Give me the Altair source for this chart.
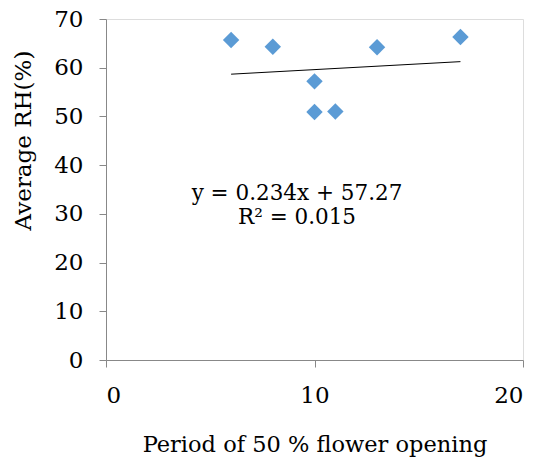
import altair as alt
import pandas as pd

period = [6, 8, 10, 10, 11, 13, 17]
avg_rh = [65.7, 64.3, 57.2, 50.9, 51.0, 64.2, 66.3]
slope = 0.234
intercept = 57.27
eq_text = ["y = 0.234x + 57.27", "R² = 0.015"]

df = pd.DataFrame({"x": period, "y": avg_rh})
xs = [min(period), max(period)]
trend = pd.DataFrame({"x": xs, "y": [slope * v + intercept for v in xs]})

serif = "DejaVu Serif"
xscale = alt.Scale(domain=[0, 20], nice=False)
yscale = alt.Scale(domain=[0, 70], nice=False)

points = alt.Chart(df).mark_point(shape="diamond", filled=True, size=270,
                                  color="#5B9BD5", opacity=1).encode(
    x=alt.X("x:Q", scale=xscale,
            axis=alt.Axis(values=[0, 10, 20], title="Period of 50 % flower opening",
                          titleFont=serif, titleFontSize=22.5, titleFontWeight="normal",
                          titleColor="#000", labelFont=serif, labelFontSize=23,
                          labelColor="#000", labelPadding=17, titlePadding=26,
                          domainColor="#888", tickColor="#888", grid=False,
                          tickSize=7)),
    y=alt.Y("y:Q", scale=yscale,
            axis=alt.Axis(values=list(range(0, 71, 10)), title="Average RH(%)",
                          titleFont=serif, titleFontSize=23, titleFontWeight="normal",
                          titleColor="#000", labelFont=serif, labelFontSize=23,
                          labelColor="#000", labelPadding=16, titlePadding=18,
                          titleY=121,
                          domainColor="#888", tickColor="#888", grid=False,
                          tickSize=7)),
)

line = alt.Chart(trend).mark_line(color="#000", strokeWidth=1).encode(
    x=alt.X("x:Q", scale=xscale), y=alt.Y("y:Q", scale=yscale))

t1 = alt.Chart(pd.DataFrame({"t": [eq_text[0]]})).mark_text(
    font=serif, fontSize=21.5, color="#000", align="center", baseline="middle"
).encode(text="t:N", x=alt.value(191), y=alt.value(175))
t2 = alt.Chart(pd.DataFrame({"t": [eq_text[1]]})).mark_text(
    font=serif, fontSize=21.5, color="#000", align="center", baseline="middle"
).encode(text="t:N", x=alt.value(191), y=alt.value(199))

chart = (line + points + t1 + t2).properties(
    width=417, height=341,
    autosize=alt.AutoSizeParams(type="none"),
    padding={"left": 106, "top": 19, "right": 21, "bottom": 99},
).configure_view(stroke=None).configure(background="white")

chart.save("out.html", embed_options={"renderer": "svg", "actions": False})
